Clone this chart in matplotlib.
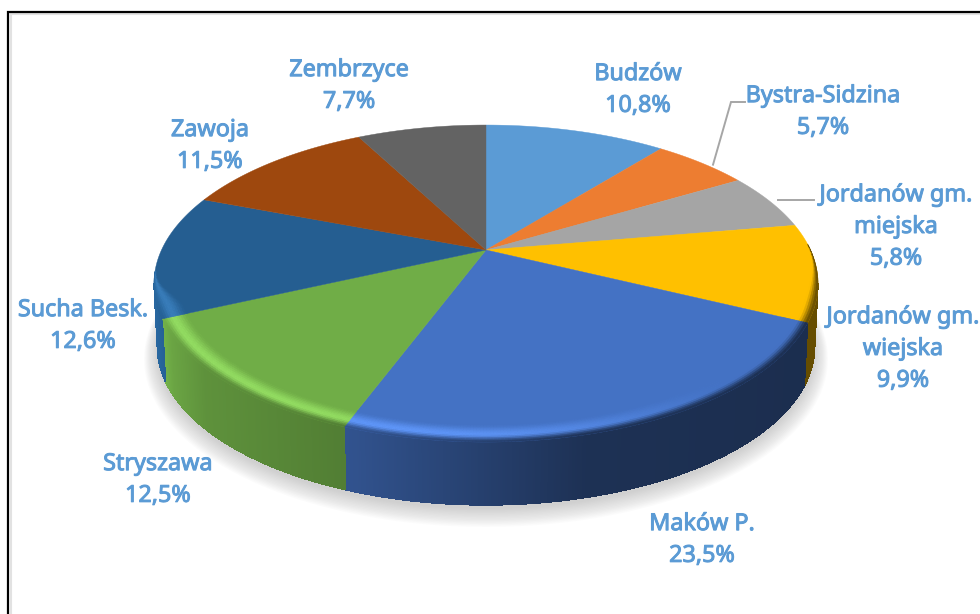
import numpy as np
import matplotlib
matplotlib.use("Agg")
import matplotlib.pyplot as plt
import matplotlib.patheffects as pe
from matplotlib.collections import PolyCollection
from matplotlib.colors import to_rgb

names = ["Budzów", "Bystra-Sidzina", "Jordanów gm.\nmiejska", "Jordanów gm.\nwiejska",
         "Maków P.", "Stryszawa", "Sucha Besk.", "Zawoja", "Zembrzyce"]
values = [10.8, 5.7, 5.8, 9.9, 23.5, 12.5, 12.6, 11.5, 7.7]
value_labels = ["10,8%", "5,7%", "5,8%", "9,9%", "23,5%", "12,5%", "12,6%", "11,5%", "7,7%"]
colors = ["#5B9BD5", "#ED7D31", "#A5A5A5", "#FFC000", "#4472C4",
          "#70AD47", "#255E91", "#9E480E", "#636363"]
label_pos = [(638, 90), (823, 112), (896, 227), (903, 349), (702, 540),
             (158, 480), (83, 326), (210, 146), (349, 86)]

# layout of the perspective disc
CX, CY = 486.0, 250.0
K, A, B = 0.2114, 151.4, 324.5
DEPTH = 63.0
BOTTOM_SCALE = 0.99
TEXT = "#5B9BD5"

fig = plt.figure(figsize=(9.8, 6.14), dpi=100, facecolor="white")
ax = fig.add_axes([0, 0, 1, 1])
ax.set_xlim(0, 980)
ax.set_ylim(614, 0)
ax.axis("off")


def project(theta_deg, r=1.0, dy=0.0):
    t = np.radians(theta_deg)
    x = r * np.sin(t)
    y = r * np.cos(t)
    d = 1 + K * y
    return CX + B * x / d, CY - A * y / d + dy


def smooth(v):
    v = np.clip(v, 0, 1)
    return v * v * (3 - 2 * v)


def wall_shade(xn):
    return np.interp(xn, [-1, -0.95, -0.85, -0.4, 0.3, 1], [1.10, 0.95, 0.84, 0.72, 0.43, 0.40])


edges = np.concatenate([[0], np.cumsum(values)]) / np.sum(values) * 360.0
ANG_R = np.degrees(np.arccos(-K))
ANG_L = 360 - ANG_R

# window frame
ax.plot([10.5, 10.5], [614, 14.5], color="#E2E2E2", lw=1.5, solid_capstyle="butt", zorder=1)
ax.plot([10, 980], [14.3, 14.3], color="#E2E2E2", lw=1.5, solid_capstyle="butt", zorder=1)
ax.plot([8, 8, 980], [614, 12.3, 12.3], color="black", lw=1.6, solid_joinstyle="miter", zorder=2)

# soft shadow
th = np.linspace(0, 360, 361)
for i in range(14):
    g = i / 13
    px, py = project(th, 1.0, DEPTH + 4 + 8 * (1 - g))
    gx = BOTTOM_SCALE + 0.04 * (1 - g)
    gy = 1 + 0.06 * (1 - g)
    my = 288 + DEPTH
    ax.fill(CX + (px - CX) * gx, my + (py - my) * gy, color="#808080", alpha=0.028, lw=0, zorder=3)

# side walls
polys, cols = [], []
for v0, v1, col in zip(edges[:-1], edges[1:], colors):
    a0, a1 = max(v0, ANG_R), min(v1, ANG_L)
    if a1 <= a0:
        continue
    ts = np.arange(a0, a1 + 0.25, 0.25)
    ts[-1] = a1
    c = np.array(to_rgb(col))
    for p, q in zip(ts[:-1], ts[1:]):
        x0, y0 = project(p)
        x1, y1 = project(q)
        xn = ((x0 + x1) / 2 - CX) / 332.0
        bx0 = CX + (x0 - CX) * BOTTOM_SCALE
        bx1 = CX + (x1 - CX) * BOTTOM_SCALE
        polys.append([(x0, y0), (x1, y1), (bx1, y1 + DEPTH), (bx0, y0 + DEPTH)])
        cols.append(np.clip(c * wall_shade(xn), 0, 1))
ax.add_collection(PolyCollection(polys, facecolors=cols, edgecolors=cols, linewidths=0.3,
                                 antialiaseds=False, zorder=4))

# top surface
for v0, v1, col in zip(edges[:-1], edges[1:], colors):
    ts = np.linspace(v0, v1, max(int((v1 - v0) * 2), 3))
    px, py = project(ts)
    ax.fill(np.r_[CX, px], np.r_[CY, py], color=col, lw=0.3, zorder=5)

# bevelled rim
polys, cols = [], []
U = np.linspace(0, 1, 13)
for v0, v1, col in zip(edges[:-1], edges[1:], colors):
    a0, a1 = max(v0, 88.0), min(v1, 262.0)
    if a1 <= a0:
        continue
    ts = np.arange(a0, a1 + 0.5, 0.5)
    ts[-1] = a1
    top = np.array(to_rgb(col))
    for p, q in zip(ts[:-1], ts[1:]):
        m = (p + q) / 2
        taper = smooth((m - 88) / 22) * smooth((262 - m) / 14)
        high = smooth((m - 135) / 55)
        xm, _ = project(m)
        wall = top * wall_shade((xm - CX) / 332.0)
        hi = np.clip(top * (1 + 0.20 * high) + 0.05 * high, 0, 1)
        width = 0.07 * taper + 0.004
        for u0, u1 in zip(U[:-1], U[1:]):
            um = (u0 + u1) / 2
            if um < 0.6:
                cc = top + (hi - top) * smooth(um / 0.6)
            else:
                cc = hi + (wall - hi) * smooth((um - 0.6) / 0.4)
            r0, r1 = 1 - width * (1 - u0), 1 - width * (1 - u1)
            polys.append([project(p, r0), project(q, r0), project(q, r1), project(p, r1)])
            cols.append(np.clip(cc, 0, 1))
ax.add_collection(PolyCollection(polys, facecolors=cols, edgecolors=cols, linewidths=0.4, zorder=6))

# leader lines
mid = (edges[1] + edges[2]) / 2 + 2
sx, sy = project(mid, 1.02)
ax.plot([sx, label_pos[1][0] - 92, label_pos[1][0] - 78],
        [sy, label_pos[1][1] - 10, label_pos[1][1] - 10],
        color="#A6A6A6", lw=1.4, zorder=7, solid_joinstyle="miter")
mid = (edges[2] + edges[3]) / 2
sx, sy = project(mid, 1.03)
ax.plot([sx, label_pos[2][0] - 82], [sy, sy], color="#A6A6A6", lw=1.4, zorder=7)

# labels
for name, val, (lx, ly) in zip(names, value_labels, label_pos):
    ax.text(lx, ly, f"{name}\n{val}", ha="center", va="center", color=TEXT,
            fontsize=16.8, family=["Noto Sans", "DejaVu Sans"],
            linespacing=1.43, clip_on=True, zorder=8,
            path_effects=[pe.withStroke(linewidth=0.7, foreground=TEXT)])

fig.savefig("out.png", dpi=100, facecolor="white")
